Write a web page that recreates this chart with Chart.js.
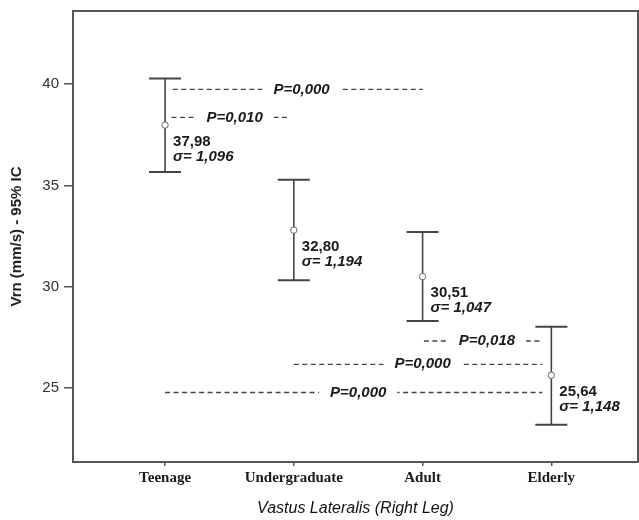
<!DOCTYPE html>
<html>
<head>
<meta charset="utf-8">
<script src="https://cdn.jsdelivr.net/npm/chart.js@4.4.1/dist/chart.umd.min.js"></script>
<style>
  body { margin: 0; background: #fff; }
  canvas { display: block; background: #fff; }
</style>
</head>
<body>
<canvas id="ciChart" width="639" height="520"></canvas>
<script>
// values
var categories = ["Teenage", "Undergraduate", "Adult", "Elderly"];
var means = [37.98, 32.80, 30.51, 25.64];
var ciLow = [35.67, 30.33, 28.32, 23.20];
var ciHigh = [40.28, 35.28, 32.71, 28.03];
var sigmas = ["1,096", "1,194", "1,047", "1,148"];
var yTicks = [25, 30, 35, 40];

// p-value comparison lines (x in category index units)
var pFrom = [0.06, 0.05, 2.01, 1.0, 0.0];
var pTo = [2.0, 0.96, 2.93, 2.93, 2.93];
var pY = [39.74, 38.36, 27.33, 26.18, 24.79];
var pTextX = [1.06, 0.54, 2.5, 2.0, 1.5];
var pText = ["P=0,000", "P=0,010", "P=0,018", "P=0,000", "P=0,000"];

var sans = '"Liberation Sans", Arial, sans-serif';
var ink = "#555";

var datasets = [];

// means
datasets.push({
    type: "scatter",
    order: 0,
    data: means.map(function (m, i) { return { x: i, y: m }; }),
    pointStyle: "circle",
    pointRadius: 3.2,
    pointBackgroundColor: "#fff",
    pointBorderColor: "#666",
    pointBorderWidth: 1
});

// caps
datasets.push({
    type: "scatter",
    order: 1,
    data: ciLow.map(function (v, i) { return { x: i, y: v }; })
        .concat(ciHigh.map(function (v, i) { return { x: i, y: v }; })),
    pointStyle: "line",
    pointRadius: 16,
    pointBorderColor: "#444",
    pointBorderWidth: 2
});

// vertical CI bars
categories.forEach(function (c, i) {
    datasets.push({
        type: "line",
        order: 2,
        data: [{ x: i, y: ciLow[i] }, { x: i, y: ciHigh[i] }],
        borderColor: "#444",
        borderWidth: 1.6,
        pointRadius: 0
    });
});

// dashed comparison lines
pY.forEach(function (y, k) {
    datasets.push({
        type: "line",
        order: 3,
        data: [{ x: pFrom[k], y: y }, { x: pTo[k], y: y }],
        borderColor: "#444",
        borderWidth: 1.3,
        borderDash: [5, 3.5],
        pointRadius: 0
    });
});

var annotate = {
    id: "annotate",
    afterDatasetsDraw: function (chart) {
        var ctx = chart.ctx;
        var xs = chart.scales.x, ys = chart.scales.y;
        var a = chart.chartArea;
        ctx.save();

        // frame top / right
        ctx.strokeStyle = ink;
        ctx.lineWidth = 2;
        ctx.beginPath();
        ctx.moveTo(a.left, a.top);
        ctx.lineTo(a.right, a.top);
        ctx.lineTo(a.right, a.bottom);
        ctx.stroke();

        // p labels over the dashed lines
        ctx.font = "italic bold 15px " + sans;
        ctx.textAlign = "center";
        ctx.textBaseline = "middle";
        pText.forEach(function (t, k) {
            var x = xs.getPixelForValue(pTextX[k]);
            var y = ys.getPixelForValue(pY[k]);
            var w = ctx.measureText(t).width;
            ctx.fillStyle = "#fff";
            ctx.fillRect(x - w / 2 - 11, y - 6, w + 22, 12);
            ctx.fillStyle = "#1a1a1a";
            ctx.fillText(t, x, y);
        });

        // mean and sigma labels
        ctx.textAlign = "left";
        means.forEach(function (m, i) {
            var x = xs.getPixelForValue(i) + 8;
            var y = ys.getPixelForValue(m);
            ctx.fillStyle = "#1a1a1a";
            ctx.font = "bold 15px " + sans;
            ctx.fillText(m.toFixed(2).replace(".", ","), x, y + 16.5);
            ctx.font = "italic bold 15px " + sans;
            ctx.fillText("\u03c3= " + sigmas[i], x, y + 31.5);
        });
        ctx.restore();
    }
};

new Chart(document.getElementById("ciChart"), {
    type: "scatter",
    data: { datasets: datasets },
    plugins: [annotate],
    options: {
        responsive: false,
        animation: false,
        layout: { autoPadding: false, padding: { top: 11, right: 1, left: 0, bottom: 0 } },
        plugins: {
            legend: { display: false },
            tooltip: { enabled: false }
        },
        scales: {
            x: {
                type: "linear",
                min: -0.715,
                max: 3.673,
                afterBuildTicks: function (scale) {
                    scale.ticks = categories.map(function (c, i) { return { value: i }; });
                },
                afterFit: function (scale) {
                    scale.height = 58;
                    scale.paddingLeft = 0;
                    scale.paddingRight = 0;
                },
                ticks: {
                    autoSkip: false,
                    maxRotation: 0,
                    padding: 3,
                    color: "#1a1a1a",
                    font: { family: '"Liberation Serif", "Times New Roman", serif', size: 15, weight: "bold" },
                    callback: function (v) { return categories[v]; }
                },
                grid: { drawOnChartArea: false, tickLength: 4, color: ink, lineWidth: 1.5 },
                border: { color: ink, width: 2 },
                title: {
                    display: true,
                    text: "Vastus Lateralis (Right Leg)",
                    color: "#111",
                    font: { family: sans, size: 16, style: "italic" },
                    padding: { top: 0, bottom: 2 }
                }
            },
            y: {
                min: 21.36,
                max: 43.61,
                afterBuildTicks: function (scale) {
                    scale.ticks = yTicks.map(function (v) { return { value: v }; });
                },
                afterFit: function (scale) {
                    scale.width = 73;
                    scale.paddingTop = 0;
                    scale.paddingBottom = 0;
                },
                ticks: {
                    padding: 5,
                    color: "#333",
                    font: { family: sans, size: 15 }
                },
                grid: { drawOnChartArea: false, tickLength: 9, color: ink, lineWidth: 1.5 },
                border: { color: ink, width: 2 },
                title: {
                    display: true,
                    text: "Vrn (mm/s) - 95% IC",
                    color: "#222",
                    font: { family: sans, size: 15, weight: "bold" },
                    padding: { top: 8, bottom: 0 }
                }
            }
        }
    }
});
</script>
</body>
</html>
